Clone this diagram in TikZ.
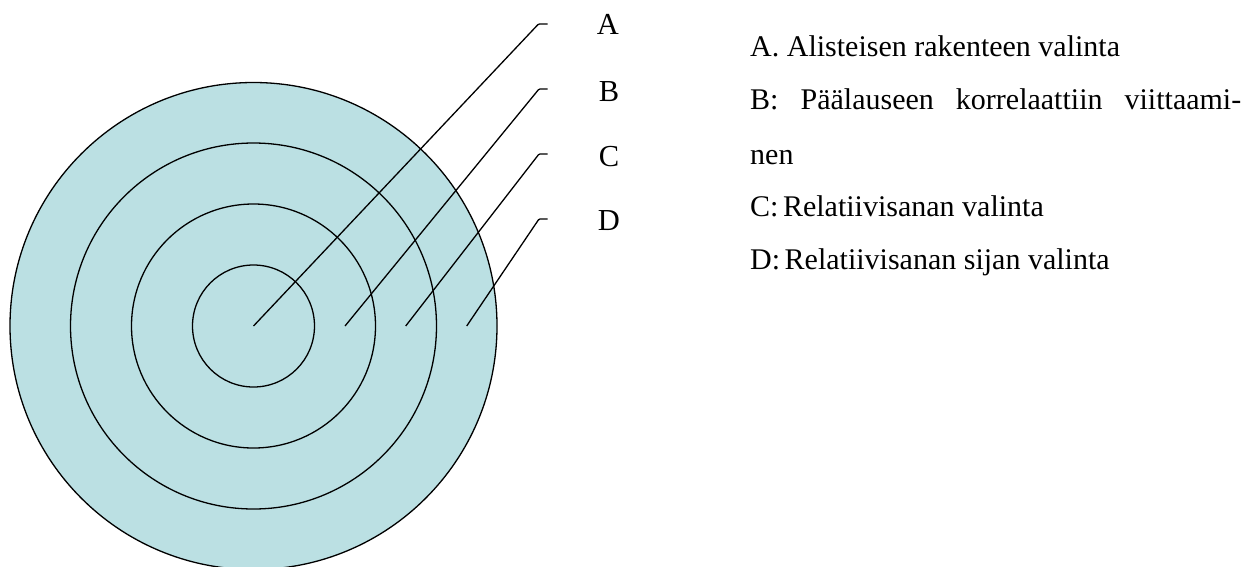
\documentclass[tikz,border=0pt]{standalone}
\usepackage{fontspec}
\setmainfont{Liberation Serif}
\definecolor{ringfill}{RGB}{187,224,227}
\begin{document}
\begin{tikzpicture}[x=1pt,y=-1pt,
  ring/.style={circle, draw=black, line width=1.3pt, inner sep=0pt, outer sep=0pt},
  leader/.style={draw=black, line width=1.3pt, rounded corners=1pt},
  txt/.style={inner sep=0pt, anchor=base west, font=\fontsize{30}{36}\selectfont},
  letter/.style={inner sep=0pt, anchor=base, font=\fontsize{30.5}{36}\selectfont}]
\clip (0,0) rectangle (1247,566);
\fill[white] (0,0) rectangle (1247,566);
\coordinate (c) at (253.5,326);
\node[ring, fill=ringfill, minimum size=487pt] (r4) at (c) {};
\node[ring, minimum size=366pt] (r3) at (c) {};
\node[ring, minimum size=244pt] (r2) at (c) {};
\node[ring, minimum size=122pt] (r1) at (c) {};
% leader lines
\coordinate (sA) at (253.5,326); \coordinate (kA) at (538.5,24); \coordinate (eA) at (547.5,24);
\coordinate (sB) at (345,326);   \coordinate (kB) at (539,89);   \coordinate (eB) at (547.5,89);
\coordinate (sC) at (405.7,326); \coordinate (kC) at (539,154);  \coordinate (eC) at (547.5,154);
\coordinate (sD) at (466.7,326); \coordinate (kD) at (539,219);  \coordinate (eD) at (547.5,219);
\draw[leader] (sA) -- (kA) -- (eA);
\draw[leader] (sB) -- (kB) -- (eB);
\draw[leader] (sC) -- (kC) -- (eC);
\draw[leader] (sD) -- (kD) -- (eD);
% letters
\node[letter] (lA) at (608,34.3) {A};
\node[letter] (lB) at (609,101.7) {B};
\node[letter] (lC) at (609,166.7) {C};
\node[letter] (lD) at (609,230) {D};
% legend
\node[txt] (tA) at (750,56) {A. Alisteisen rakenteen valinta};
\node[txt] (tB) at (750,109.3) {\makebox[491pt][s]{B: Päälauseen korrelaattiin viittaami-}};
\node[txt] (tB2) at (750,164) {nen};
\node[txt] (tC) at (750,216.7) {C:\hspace{0.15em}Relatiivisanan valinta};
\node[txt] (tD) at (750,269) {D:\hspace{0.15em}Relatiivisanan sijan valinta};
\end{tikzpicture}
\end{document}
